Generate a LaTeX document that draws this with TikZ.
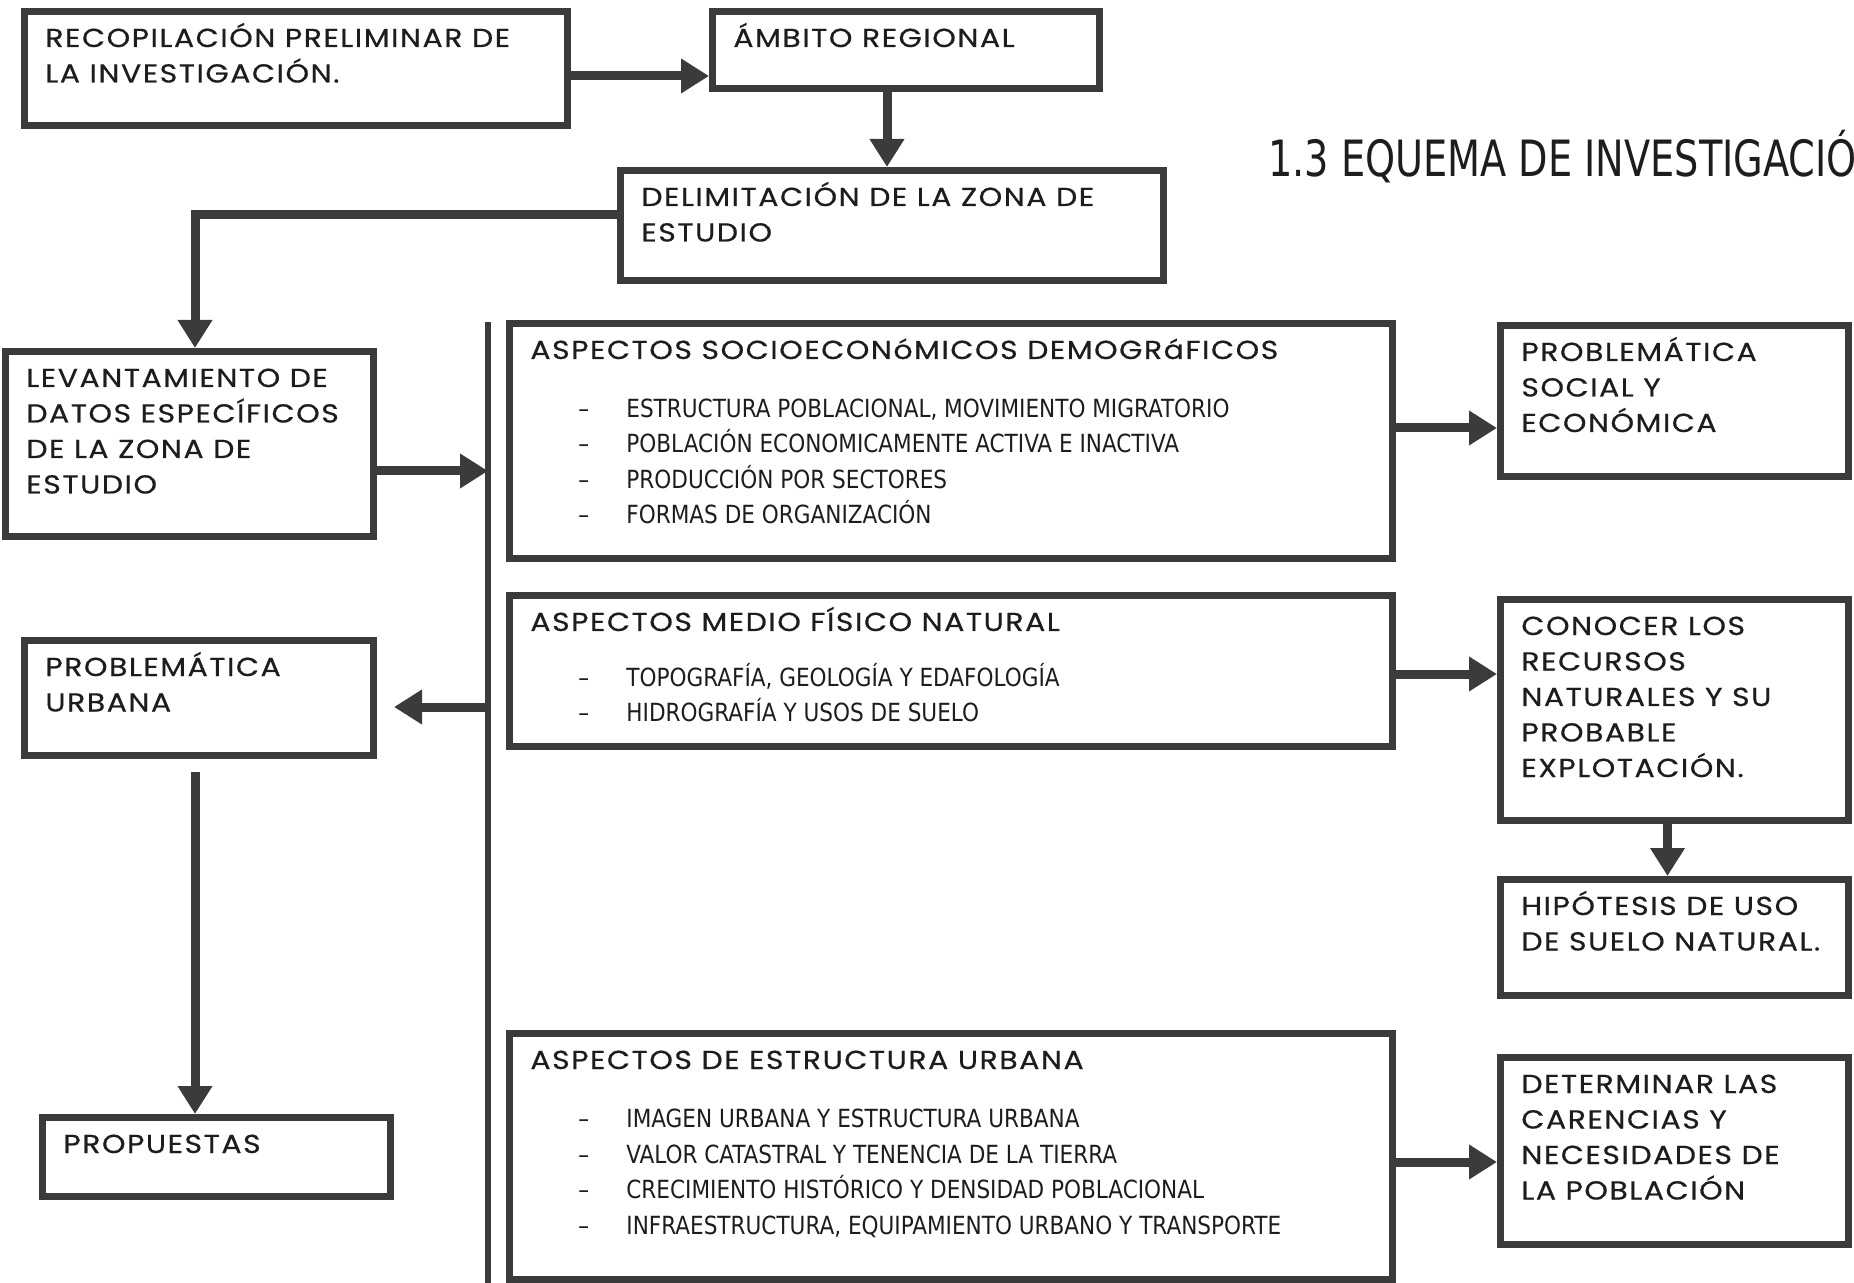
\documentclass[tikz,border=0pt]{standalone}
\usepackage{fontspec}
\usepackage{xcolor}
\definecolor{colorFrame}{HTML}{3B3B3B}
\definecolor{colorText}{HTML}{1D1D1B}
\newfontfamily\headfont[FakeStretch=1.15,LetterSpace=6,FakeBold=0.6]{Poppins}
\newfontfamily\listfont[FakeStretch=0.96]{DejaVu Sans Condensed}
\newfontfamily\titlefont[FakeStretch=0.85]{DejaVu Sans Condensed}
\newcommand{\hd}{\headfont\fontsize{13}{17.75}\selectfont}
\newcommand{\lst}{\listfont\fontsize{12.5}{17.75}\selectfont}
\newcommand{\itm}[1]{\lst\hspace*{24pt}\makebox[24pt][l]{–}#1}
\newcommand{\boxtext}[1]{\begin{tabular}[t]{@{}l@{}}#1\end{tabular}}
\usepackage{tikz}
\usetikzlibrary{arrows.meta, positioning}
\tikzset{
  box/.style 2 args={draw=colorFrame, line width=3.5pt, minimum width=#1, minimum height=#2, inner sep=0pt},
  boxlabel/.style={anchor=base west, inner sep=0pt, xshift=12pt, yshift=-19.5pt, font=\hd, text=colorText},
  arrowline/.style={draw=colorFrame, line width=4.5pt, -{Triangle[length=14pt,width=16.5pt]}},
  barline/.style={draw=colorFrame, line width=3pt}
}

\begin{document}
\begin{tikzpicture}[x=0.5pt, y=-0.5pt]
\useasboundingbox (0,0) rectangle (1854,1283);
\node[anchor=base west, inner sep=0pt, text=colorText, font=\titlefont\fontsize{25}{30}\selectfont] (title) at (1268,177) {1.3 EQUEMA DE INVESTIGACIÓN};
\node[box={271.5pt}{57pt}, label={[boxlabel]north west:{\boxtext{RECOPILACIÓN PRELIMINAR DE\\LA INVESTIGACIÓN.}}}] (recop) at (296,68.5) {};
\node[box={193.5pt}{38.5pt}, label={[boxlabel]north west:{\boxtext{ÁMBITO REGIONAL}}}] (ambito) at (906,50) {};
\node[box={271.5pt}{55pt}, label={[boxlabel]north west:{\boxtext{DELIMITACIÓN DE LA ZONA DE\\ESTUDIO}}}] (delim) at (892,225.5) {};
\node[box={184pt}{92.5pt}, label={[boxlabel]north west:{\boxtext{LEVANTAMIENTO DE\\DATOS ESPECÍFICOS\\DE LA ZONA DE\\ESTUDIO}}}] (levant) at (189.5,444) {};
\node[box={441.5pt}{117.5pt}, label={[boxlabel]north west:{\boxtext{ASPECTOS SOCIOECONóMICOS DEMOGRáFICOS\\[11.5pt]
  \itm{ESTRUCTURA POBLACIONAL, MOVIMIENTO MIGRATORIO}\\
  \itm{POBLACIÓN ECONOMICAMENTE ACTIVA E INACTIVA}\\
  \itm{PRODUCCIÓN POR SECTORES}\\
  \itm{FORMAS DE ORGANIZACIÓN}}}}] (socio) at (951,441) {};
\node[box={441.5pt}{75.5pt}, label={[boxlabel]north west:{\boxtext{ASPECTOS MEDIO FÍSICO NATURAL\\[10pt]
  \itm{TOPOGRAFÍA, GEOLOGÍA Y EDAFOLOGÍA}\\
  \itm{HIDROGRAFÍA Y USOS DE SUELO}}}}] (medio) at (951,671) {};
\node[box={441.5pt}{123pt}, label={[boxlabel]north west:{\boxtext{ASPECTOS DE ESTRUCTURA URBANA\\[11.5pt]
  \itm{IMAGEN URBANA Y ESTRUCTURA URBANA}\\
  \itm{VALOR CATASTRAL Y TENENCIA DE LA TIERRA}\\
  \itm{CRECIMIENTO HISTÓRICO Y DENSIDAD POBLACIONAL}\\
  \itm{INFRAESTRUCTURA, EQUIPAMIENTO URBANO Y TRANSPORTE}}}}] (urbana) at (951,1156.5) {};
\node[box={174pt}{75.5pt}, label={[boxlabel]north west:{\boxtext{PROBLEMÁTICA\\SOCIAL Y\\ECONÓMICA}}}] (probsoc) at (1674.5,401) {};
\node[box={174pt}{110.5pt}, label={[boxlabel]north west:{\boxtext{CONOCER LOS\\RECURSOS\\NATURALES Y SU\\PROBABLE\\EXPLOTACIÓN.}}}] (conocer) at (1674.5,710) {};
\node[box={174pt}{58pt}, below=26pt of conocer, label={[boxlabel]north west:{\boxtext{HIPÓTESIS DE USO\\DE SUELO NATURAL.}}}] (hipot) {};
\node[box={174pt}{93.5pt}, label={[boxlabel]north west:{\boxtext{DETERMINAR LAS\\CARENCIAS Y\\NECESIDADES DE\\LA POBLACIÓN}}}] (determ) at (1674.5,1151) {};
\node[box={174.5pt}{57.5pt}, label={[boxlabel]north west:{\boxtext{PROBLEMÁTICA\\URBANA}}}] (proburb) at (199,698) {};
\node[box={174pt}{39.5pt}, label={[boxlabel]north west:{\boxtext{PROPUESTAS}}}] (propuestas) at (216.5,1157) {};
\coordinate (barTop) at (488,322);
\coordinate (barBot) at (488,1283);
\draw[barline] (barTop) -- (barBot);
\draw[arrowline] ([yshift=-3.75pt]recop.east) -- ([yshift=-3.75pt]recop.east -| ambito.west);
\draw[arrowline] ([xshift=-2.5pt]ambito.south -| delim.north) -- ([xshift=-2.5pt]delim.north);
\draw[arrowline] ([yshift=5.25pt]delim.west) -| ([xshift=2.75pt]levant.north);
\draw[arrowline] ([yshift=-13.5pt]levant.east) -- ([yshift=-13.5pt]levant.east -| barTop);
\draw[arrowline] ([yshift=-4.5pt]proburb.east -| barTop) -- ([xshift=8.5pt,yshift=-4.5pt]proburb.east);
\draw[arrowline] ([xshift=-2pt,yshift=-6.5pt]proburb.south) -- ([xshift=-2pt]proburb.south |- propuestas.north);
\draw[arrowline] ([yshift=6.5pt]socio.east) -- ([yshift=6.5pt]socio.east -| probsoc.west);
\draw[arrowline] ([yshift=-1.5pt]medio.east) -- ([yshift=-1.5pt]medio.east -| conocer.west);
\draw[arrowline] ([xshift=-3.5pt]conocer.south) -- ([xshift=-3.5pt]hipot.north);
\draw[arrowline] ([yshift=-2.75pt]urbana.east) -- ([yshift=-2.75pt]urbana.east -| determ.west);
\end{tikzpicture}
\end{document}
